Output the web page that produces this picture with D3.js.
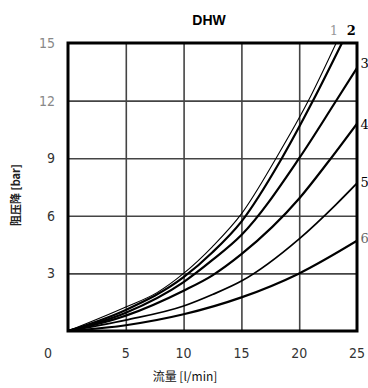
<!DOCTYPE html>
<html>
<head>
<meta charset="utf-8">
<script src="https://cdn.jsdelivr.net/npm/d3@7"></script>
<style>
  body { margin: 0; background: #fff; }
  svg { display: block; }
</style>
</head>
<body>
<div id="chart"></div>
<script>
// flow [l/min] / pressure drop [bar] points
const curve1 = [[0, 0], [5, 1.25], [7.7, 2.0], [10, 3.0], [12.5, 4.4], [15, 6.1], [18, 9.0], [20.8, 12], [23.2, 15]];
const curve2 = [[0, 0], [5, 1.1], [10, 2.8], [12.5, 4.1], [15, 5.7], [18.5, 9], [21.2, 12], [23.7, 15]];
const curve3 = [[0, 0], [5, 0.95], [10, 2.55], [12.5, 3.7], [15, 5.0], [20, 9], [23.1, 11.9], [25, 13.7]];
const curve4 = [[0, 0], [5, 0.8], [10, 2.1], [12.5, 2.9], [15, 4.0], [20, 6.9], [22.5, 8.8], [25, 10.8]];
const curve5 = [[0, 0], [5, 0.57], [10, 1.3], [12.5, 1.9], [15, 2.6], [20, 4.8], [23.2, 6.6], [25, 7.7]];
const curve6 = [[0, 0], [5, 0.3], [10, 0.87], [15, 1.75], [20, 3.0], [25, 4.7]];

const curveNames = ['1', '2', '3', '4', '5', '6'];
const xTicks = [0, 5, 10, 15, 20, 25];
const yTicks = [3, 6, 9, 12, 15];

const series = [curve1, curve2, curve3, curve4, curve5, curve6];
const strokeW = [1.1, 2.2, 2.2, 2.2, 1.7, 2.2];

const W = 368, H = 388;
const margin = { top: 43, right: 11, bottom: 57, left: 68 };
const width = W - margin.left - margin.right;
const height = H - margin.top - margin.bottom;

const svg = d3.select('#chart').append('svg')
  .attr('width', W)
  .attr('height', H);

const xScale = d3.scaleLinear().domain([0, 25]).range([0, width]);
const yScale = d3.scaleLinear().domain([0, 15]).range([height, 0]);

const chart = svg.append('g')
  .attr('transform', `translate(${margin.left},${margin.top})`);

// grid
const xGrid = d3.axisBottom(xScale).tickValues(xTicks.slice(1, -1)).tickSize(-height).tickFormat('');
const yGrid = d3.axisLeft(yScale).tickValues(yTicks.slice(0, -1)).tickSize(-width).tickFormat('');

chart.append('g')
  .attr('transform', `translate(0,${height})`)
  .call(xGrid)
  .call(g => g.select('.domain').remove())
  .call(g => g.selectAll('line').attr('stroke', '#444').attr('stroke-width', 1.6));

chart.append('g')
  .call(yGrid)
  .call(g => g.select('.domain').remove())
  .call(g => g.selectAll('line').attr('stroke', '#444').attr('stroke-width', 1.6));

// curves
svg.append('clipPath').attr('id', 'plot')
  .append('rect').attr('x', 0).attr('y', 0).attr('width', width).attr('height', height);

const line = d3.line()
  .x(d => xScale(d[0]))
  .y(d => yScale(d[1]))
  .curve(d3.curveMonotoneX);

chart.append('g')
  .attr('clip-path', 'url(#plot)')
  .selectAll('path')
  .data(series)
  .enter().append('path')
  .attr('d', line)
  .attr('fill', 'none')
  .attr('stroke', '#000')
  .attr('stroke-width', (d, i) => strokeW[i]);

// frame
chart.append('rect')
  .attr('width', width)
  .attr('height', height)
  .attr('fill', 'none')
  .attr('stroke', '#000')
  .attr('stroke-width', 3);

// tick labels
const tickFont = '"DejaVu Sans Condensed", "Liberation Sans Narrow", sans-serif';

chart.append('g')
  .selectAll('text')
  .data(xTicks)
  .enter().append('text')
  .attr('x', d => d === 0 ? xScale(d) - 20 : xScale(d))
  .attr('y', height + 27)
  .attr('text-anchor', 'middle')
  .style('font-family', tickFont)
  .style('font-size', '14px')
  .style('fill', '#333')
  .text(d => d);

chart.append('g')
  .selectAll('text')
  .data(yTicks)
  .enter().append('text')
  .attr('x', -13)
  .attr('y', d => yScale(d) + 5)
  .attr('text-anchor', 'end')
  .style('font-family', tickFont)
  .style('font-size', '14px')
  .style('fill', d => d >= 12 ? '#888' : '#333')
  .text(d => d);

// curve numbers at the ends
const labelPos = [
  { x: 23.0, y: 15.4, anchor: 'middle', color: '#999', weight: 'normal' },
  { x: 24.5, y: 15.4, anchor: 'middle', color: '#000', weight: 'bold' },
  { x: 25.3, y: 13.7, anchor: 'start', color: '#000', weight: 'normal' },
  { x: 25.3, y: 10.5, anchor: 'start', color: '#000', weight: 'normal' },
  { x: 25.3, y: 7.5, anchor: 'start', color: '#000', weight: 'normal' },
  { x: 25.3, y: 4.6, anchor: 'start', color: '#666', weight: 'normal' }
];

chart.append('g')
  .selectAll('text')
  .data(curveNames)
  .enter().append('text')
  .attr('x', (d, i) => xScale(labelPos[i].x))
  .attr('y', (d, i) => yScale(labelPos[i].y))
  .attr('text-anchor', (d, i) => labelPos[i].anchor)
  .style('font-family', '"DejaVu Serif", serif')
  .style('font-size', '13px')
  .style('font-weight', (d, i) => labelPos[i].weight)
  .style('fill', (d, i) => labelPos[i].color)
  .text(d => d);

// titles
svg.append('text')
  .attr('x', 209)
  .attr('y', 25)
  .attr('text-anchor', 'middle')
  .style('font-family', '"Liberation Sans", Arial, sans-serif')
  .style('font-weight', 'bold')
  .style('font-size', '14px')
  .text('DHW');

svg.append('text')
  .attr('x', 185)
  .attr('y', 381)
  .attr('text-anchor', 'middle')
  .style('font-family', '"Noto Sans CJK SC", sans-serif')
  .style('font-size', '12px')
  .style('fill', '#111')
  .text('流量 [l/min]');

svg.append('text')
  .attr('transform', 'translate(20,195) rotate(-90)')
  .attr('text-anchor', 'middle')
  .style('font-family', '"Noto Sans CJK SC", sans-serif')
  .style('font-size', '11px')
  .style('font-weight', 'bold')
  .style('fill', '#222')
  .text('阻压降  [bar]');
</script>
</body>
</html>
